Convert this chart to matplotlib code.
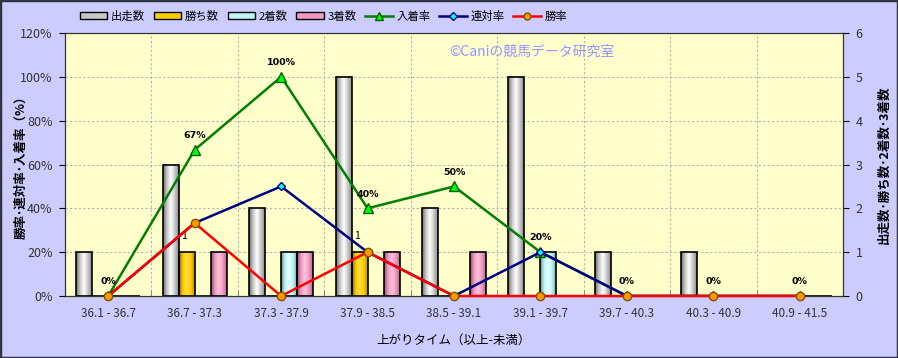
import numpy as np
import matplotlib
matplotlib.use("Agg")
import matplotlib.pyplot as plt
from matplotlib.colors import LinearSegmentedColormap, to_rgb
from matplotlib.patches import Patch, Rectangle
from matplotlib.lines import Line2D

plt.rcParams['font.family'] = ['Noto Sans CJK JP', 'DejaVu Sans']

cats = ['36.1 - 36.7', '36.7 - 37.3', '37.3 - 37.9', '37.9 - 38.5', '38.5 - 39.1',
        '39.1 - 39.7', '39.7 - 40.3', '40.3 - 40.9', '40.9 - 41.5']
starts = [1, 3, 2, 5, 2, 5, 1, 1, 0]
wins = [0, 1, 0, 1, 0, 0, 0, 0, 0]
seconds = [0, 0, 1, 0, 0, 1, 0, 0, 0]
thirds = [0, 1, 1, 1, 1, 0, 0, 0, 0]
place_rate = [0, 66.7, 100, 40, 50, 20, 0, 0, 0]
rentai_rate = [0, 33.3, 50, 20, 0, 20, 0, 0, 0]
win_rate = [0, 33.3, 0, 20, 0, 0, 0, 0, 0]

x = np.arange(len(cats))
w = 0.185

fig = plt.figure(figsize=(8.98, 3.58), dpi=100, facecolor='#ccccff')
ax2 = fig.add_axes([0.0724, 0.1732, 0.8664, 0.7346])   # bars (right scale)
ax = ax2.twinx()                                      # lines (left scale)
ax.yaxis.tick_left()
ax.yaxis.set_label_position('left')
ax2.yaxis.tick_right()
ax2.yaxis.set_label_position('right')
ax.set_zorder(ax2.get_zorder() + 1)
ax.patch.set_visible(False)
ax2.set_facecolor('#ffffcc')


def grad_cmap(col, light='#ffffff'):
    c = np.array(to_rgb(col))
    dark = c * 0.55
    return LinearSegmentedColormap.from_list('g', [dark, c, light, c, c * 0.7])


grad = np.linspace(0, 1, 64).reshape(1, -1)
series = [(starts, '#c8c8c8', '#ffffff', '出走数'),
          (wins, '#ffcc00', '#ffdd44', '勝ち数'),
          (seconds, '#bbf5f5', '#e8ffff', '2着数'),
          (thirds, '#f598c3', '#ffc4dd', '3着数')]
handles = []
for k, (vals, col, light, name) in enumerate(series):
    off = (k - 1.5) * w
    cm = grad_cmap(col, light)
    for i, v in enumerate(vals):
        if v > 0:
            x0 = x[i] + off - w / 2
            ax2.imshow(grad, extent=(x0, x0 + w, 0, v), aspect='auto', cmap=cm,
                       zorder=2, interpolation='bilinear')
    ax2.bar(x + off, vals, w, facecolor='none', edgecolor='black', linewidth=1.2, zorder=3)
    handles.append(Patch(facecolor=col, edgecolor='black', label=name))

# labels on win bars
for i, v in enumerate(wins):
    if v > 0:
        ax2.annotate(str(v), (x[i] - 0.5 * w, v), xytext=(-2, 8), textcoords='offset points',
                     ha='center', va='bottom', fontsize=7.5, zorder=5)

ax.plot(x, place_rate, color='#008000', lw=1.8, marker='^', ms=7, mfc='#00ff00',
        mec='#006000', zorder=4)
ax.plot(x, rentai_rate, color='#000080', lw=1.8, marker='D', ms=4.5, mfc='#00ffff',
        mec='#000080', zorder=5)
ax.plot(x, win_rate, color='#ff0000', lw=1.8, marker='o', ms=6, mfc='#ff9900',
        mec='#805000', zorder=6, clip_on=False)

handles += [Line2D([], [], color='#008000', lw=1.8, marker='^', ms=6, mfc='#00ff00',
                   mec='#006000', label='入着率'),
            Line2D([], [], color='#000080', lw=1.8, marker='D', ms=4, mfc='#00ffff',
                   mec='#000080', label='連対率'),
            Line2D([], [], color='#ff0000', lw=1.8, marker='o', ms=5, mfc='#ff9900',
                   mec='#805000', label='勝率')]

for i, v in enumerate(place_rate):
    ax.annotate('%d%%' % round(v), (x[i], v), xytext=(0, 7), textcoords='offset points',
                ha='center', va='bottom', fontsize=6.8, fontweight='bold',
                family='DejaVu Sans', zorder=7)

ax.set_ylim(0, 120)
ax.set_yticks(np.arange(0, 121, 20))
ax.set_yticklabels(['%d%%' % t for t in range(0, 121, 20)])
ax2.set_ylim(0, 6)
ax2.set_yticks(range(7))
ax2.set_xlim(-0.5, len(cats) - 0.5)
ax.set_xlim(-0.5, len(cats) - 0.5)

ax2.set_xticks(x)
ax2.set_xticklabels(cats)
ax2.set_xticks(np.arange(-0.5, len(cats), 1), minor=True)
ax2.tick_params(axis='x', which='major', length=0, pad=8, labelsize=8.5, labelcolor='#333333')
ax2.tick_params(axis='x', which='minor', length=4, direction='in', color='#777777')
ax2.grid(True, which='minor', axis='x', color='#b4b4b4', ls=(0, (2, 2)), lw=0.8)
ax2.grid(True, which='major', axis='y', color='#b4b4b4', ls=(0, (2, 2)), lw=0.8)
ax2.set_axisbelow(True)
ax2.tick_params(axis='y', labelsize=9, labelcolor='#333333', length=4, pad=5)
ax.tick_params(axis='y', labelsize=9, labelcolor='#333333', length=4, pad=5)

for s in ax.spines.values():
    s.set_color('#333333')
for s in ax2.spines.values():
    s.set_color('#333333')

ax.set_ylabel('勝率･連対率･入着率（%）', fontsize=9, fontweight='bold')
ax.yaxis.set_label_coords(-0.048, 0.5)
ax2.set_ylabel('出走数･勝ち数･2着数･3着数', fontsize=9, fontweight='bold', rotation=90)
ax2.yaxis.set_label_coords(1.045, 0.5)
ax2.set_xlabel('上がりタイム（以上-未満）', fontsize=9, labelpad=10)

ax2.text(0.60, 0.93, '©Caniの競馬データ研究室', transform=ax2.transAxes, ha='center',
         va='center', fontsize=10, color='#9494ff', zorder=1)

fig.legend(handles=handles, loc='center', bbox_to_anchor=(0.36, 0.955), ncol=7,
           frameon=False, fontsize=8.2, handlelength=2.4, handleheight=0.5,
           columnspacing=0.8, handletextpad=0.3)

fig.patches.append(Rectangle((0, 0), 1, 1, transform=fig.transFigure, fill=False,
                             edgecolor='#333344', lw=2.5))

fig.savefig('out.png', dpi=100, facecolor=fig.get_facecolor())
